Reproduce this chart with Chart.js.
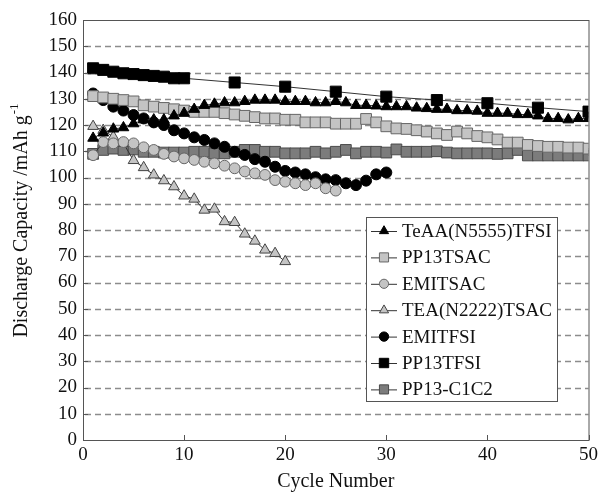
<!DOCTYPE html>
<html>
<head>
<meta charset="utf-8">
<script src="https://cdn.jsdelivr.net/npm/chart.js"></script>
<style>
  html, body { margin: 0; padding: 0; background: #fff; }
  #wrap { width: 602px; height: 494px; }
</style>
</head>
<body>
<div id="wrap"><canvas id="cap"></canvas></div>
<script>
// cycle numbers
const cycles = [1,2,3,4,5,6,7,8,9,10,11,12,13,14,15,16,17,18,19,20,21,22,23,24,25,
                26,27,28,29,30,31,32,33,34,35,36,37,38,39,40,41,42,43,44,45,46,47,48,49,50];
const tfsiCycles = [1,2,3,4,5,6,7,8,9,10,15,20,25,30,35,40,45,50];

// discharge capacity, mAh/g
const teaaTfsi = [115,117,118.5,119,120.5,122,122,122,123.5,124.5,
                  126,127.5,128,128.5,128.5,129,129.5,129.5,129.5,129,
                  129,129,128.5,128.5,129,128.5,127.5,127.5,127.3,127,
                  127,127,126.5,126.3,126,126,125.5,125.5,125.3,124.5,
                  124.5,124.5,124,124,123.5,122.5,122.5,122,122.5,122.5];
const pp13Tsac = [131,130.5,130,129.5,129,127.5,127,126.5,126,125.5,
                  125,125,125,124.5,124,123.5,123,122.5,122.5,122,
                  122,121,121,121,120.5,120.5,120.5,122.3,121,119.5,
                  118.7,118.5,118,117.5,116.8,116.2,117.5,116.8,115.8,115.3,
                  114.5,113.3,113.3,112.4,112,111.7,111.7,111.4,111.4,111];
const emiTsac = [108.5,113.5,113,113.5,113,111.5,110.5,109,108,107.3,
                 106.7,106,105.4,104.5,103.5,102.3,101.6,101,99,98.4,
                 97.8,97.1,97.8,95.9,95];
const teaTsac = [119.5,118,115.5,113,106.5,103.8,101,98.8,96.5,93,
                 91.8,87.6,88,83.2,82.9,78.5,75.8,72.4,71.1,68];
const emiTfsi = [132,129.5,127,125.5,123.8,122.5,121,120,118,116.8,
                 115.3,114.3,113,111.7,109.8,108.6,107,106,104.1,102.5,
                 101.9,101.2,100.1,99.3,99,97.8,97.1,98.8,101.2,101.9];
const pp13Tfsi = [141.6,141,140.3,139.7,139.4,139,138.7,138.4,137.8,137.8,
                  136.2,134.6,132.7,130.8,129.5,128.3,126.6,125.1];
const pp13C1c2 = [109,110.5,111,110.5,110.7,109.8,109.8,109.5,109.5,109.5,
                  109.8,109.8,109.2,109.2,109.8,110.5,110.5,109.8,109.8,109.2,
                  109.2,109.2,109.8,109.2,109.8,110.5,109.2,109.8,109.8,109.5,
                  110.7,109.8,109.8,109.8,110,109.5,109.2,109.2,109.2,109.2,
                  109,109.2,110.5,108.4,108.4,108.4,108.4,108.4,108.4,108.4];

const yTicks = [0,10,20,30,40,50,60,70,80,90,100,110,120,130,140,150,160];
const xTicks = [0,10,20,30,40,50];

const SERIF = '"Liberation Serif", "Times New Roman", serif';
const INK = '#111';

function pts(xs, ys) {
  return ys.map((v, i) => ({x: xs[i], y: v}));
}

// name, x values, y values, marker, fill, edge, radius
const series = [
  ['TeAA(N5555)TFSI', cycles, teaaTfsi, 'triangle', '#000', '#000', 6.2],
  ['PP13TSAC',        cycles, pp13Tsac, 'rect',     '#c4c4c4', '#666', 7.6],
  ['EMITSAC',         cycles, emiTsac,  'circle',   '#c4c4c4', '#666', 5.4],
  ['TEA(N2222)TSAC',  cycles, teaTsac,  'triangle', '#c4c4c4', '#444', 6.2],
  ['EMITFSI',         cycles, emiTfsi,  'circle',   '#000', '#000', 5.5],
  ['PP13TFSI',        tfsiCycles, pp13Tfsi, 'rect', '#000', '#000', 7.8],
  ['PP13-C1C2',       cycles, pp13C1c2, 'rect',     '#7c7c7c', '#4a4a4a', 7.6],
];

const datasets = series.map((s, i) => ({
  label: s[0],
  data: pts(s[1], s[2]),
  showLine: true,
  borderColor: '#333',
  borderWidth: 1,
  tension: 0,
  pointStyle: s[3],
  pointRadius: s[6],
  pointHoverRadius: s[6],
  pointBackgroundColor: s[4],
  pointBorderColor: s[5],
  pointBorderWidth: 1,
  order: i
}));

// dashed horizontal grid under the data
const grid = {
  id: 'grid',
  beforeDatasetsDraw(chart) {
    const {ctx, chartArea: a, scales} = chart;
    ctx.save();
    ctx.strokeStyle = '#8c8c8c';
    ctx.lineWidth = 1.4;
    ctx.setLineDash([6, 4]);
    yTicks.slice(1, -1).forEach(v => {
      const y = Math.round(scales.y.getPixelForValue(v)) + 0.5;
      ctx.beginPath();
      ctx.moveTo(a.left + 2, y); ctx.lineTo(a.right, y);
      ctx.stroke();
    });
    ctx.restore();
  }
};

// box around the plot, inner tick marks, y title with superscript, legend box
const decor = {
  id: 'decor',
  afterDatasetsDraw(chart) {
    const {ctx, chartArea: a, scales} = chart;
    ctx.save();
    ctx.strokeStyle = '#555';
    ctx.lineWidth = 1;
    ctx.strokeRect(a.left + 0.5, a.top + 0.5, a.right - a.left, a.bottom - a.top);

    ctx.beginPath();
    yTicks.forEach(v => {
      const y = Math.round(scales.y.getPixelForValue(v)) + 0.5;
      ctx.moveTo(a.left, y); ctx.lineTo(a.left + 5, y);
    });
    xTicks.forEach(v => {
      const x = Math.round(scales.x.getPixelForValue(v)) + 0.5;
      ctx.moveTo(x, a.bottom); ctx.lineTo(x, a.bottom - 5);
    });
    ctx.stroke();

    // y axis title
    ctx.save();
    ctx.translate(22, 221);
    ctx.rotate(-Math.PI / 2);
    ctx.fillStyle = INK;
    ctx.textBaseline = 'middle';
    const main = 'Discharge Capacity /mAh g';
    ctx.font = '20px ' + SERIF;
    const w1 = ctx.measureText(main).width;
    ctx.font = '13px ' + SERIF;
    const w2 = ctx.measureText('-1').width;
    const x0 = -(w1 + w2) / 2;
    ctx.font = '20px ' + SERIF;
    ctx.textAlign = 'left';
    ctx.fillText(main, x0, 0);
    ctx.font = '13px ' + SERIF;
    ctx.fillText('-1', x0 + w1 + 1, -7);
    ctx.restore();

    // legend
    const lx = 366, ly = 217, lw = 191, lh = 184, step = 26.4;
    ctx.fillStyle = '#fff';
    ctx.fillRect(lx, ly, lw, lh);
    ctx.strokeStyle = '#555';
    ctx.strokeRect(lx + 0.5, ly + 0.5, lw, lh);
    ctx.font = '19px ' + SERIF;
    ctx.textBaseline = 'middle';
    ctx.textAlign = 'left';
    chart.data.datasets.forEach((ds, i) => {
      const cy = ly + 14 + i * step;
      ctx.strokeStyle = '#333';
      ctx.lineWidth = 1;
      ctx.beginPath();
      ctx.moveTo(lx + 5, cy + 0.5); ctx.lineTo(lx + 31, cy + 0.5);
      ctx.stroke();
      ctx.fillStyle = ds.pointBackgroundColor;
      ctx.strokeStyle = ds.pointBorderColor;
      const r = ds.pointStyle === 'rect' ? ds.pointRadius * 0.85 : ds.pointRadius * 0.85;
      Chart.helpers.drawPoint(ctx, {pointStyle: ds.pointStyle, radius: r, borderWidth: 1}, lx + 18, cy);
      ctx.fillStyle = INK;
      ctx.fillText(ds.label, lx + 36, cy + 1);
    });
    ctx.restore();
  }
};

new Chart(document.getElementById('cap'), {
  type: 'scatter',
  data: { datasets },
  plugins: [grid, decor],
  options: {
    responsive: true,
    maintainAspectRatio: false,
    animation: false,
    layout: { padding: { top: 20, right: 11, left: 0, bottom: 0 } },
    plugins: {
      legend: { display: false },
      tooltip: { enabled: false }
    },
    scales: {
      x: {
        type: 'linear',
        min: 0, max: 50,
        afterFit(scale) { scale.height = 54; },
        afterBuildTicks(scale) { scale.ticks = xTicks.map(v => ({value: v})); },
        grid: { display: false, drawTicks: false },
        border: { display: false },
        ticks: { color: INK, padding: 4, font: { family: SERIF, size: 19 } },
        title: { display: true, text: 'Cycle Number', color: INK, padding: { top: 0, bottom: 0 },
                 font: { family: SERIF, size: 20 } }
      },
      y: {
        min: 0, max: 160,
        afterFit(scale) { scale.width = 83; },
        afterBuildTicks(scale) { scale.ticks = yTicks.map(v => ({value: v})); },
        grid: { display: false, drawTicks: false },
        border: { display: false },
        ticks: { color: INK, padding: 6, font: { family: SERIF, size: 19 } }
      }
    }
  }
});
</script>
</body>
</html>
